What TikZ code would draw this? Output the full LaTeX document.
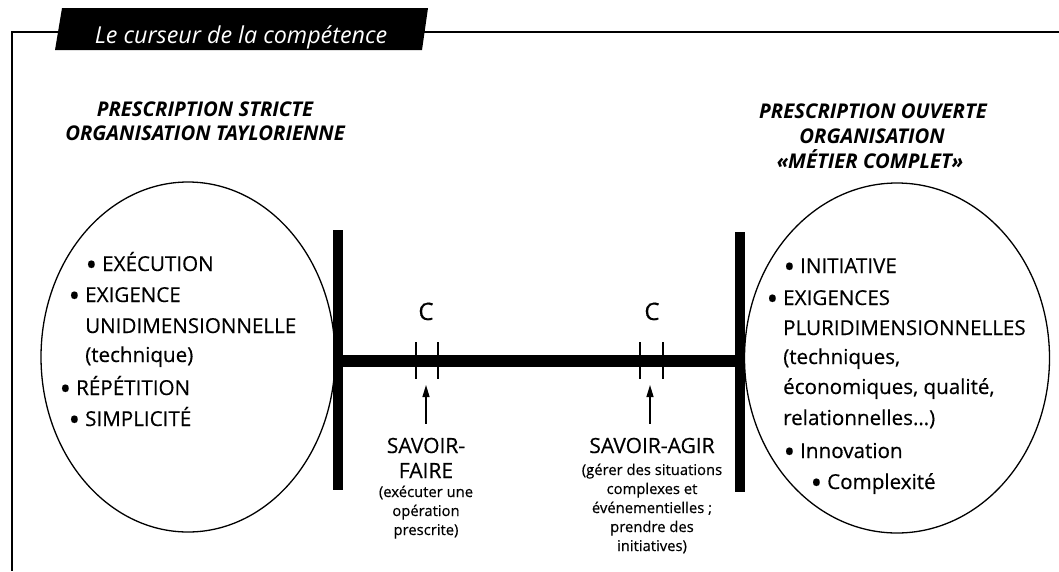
\documentclass[tikz,border=0pt]{standalone}
\usepackage{fontspec}
\setmainfont{Open Sans}[UprightFeatures={FakeBold=0.4}]
\usetikzlibrary{arrows.meta,shapes.geometric}
\newcommand{\bulx}{\makebox[0pt][r]{\raisebox{-0.22em}{\scalebox{1.5}{\textbullet}}\hspace{5pt}}}
\begin{document}
\begin{tikzpicture}[x=1pt,y=-1pt,
  frame/.style={line width=1.4pt},
  oval/.style={draw, ellipse, line width=1.3pt, inner sep=0pt, minimum width=294pt, minimum height=350pt},
  vbar/.style={line width=10pt},
  hbar/.style={line width=12pt},
  tickmark/.style={line width=1.3pt},
  item/.style={anchor=base west, inner sep=0pt, font=\fontsize{20.6}{24}\selectfont},
  head/.style={anchor=base, inner sep=0pt, font=\fontsize{20.3}{23}\selectfont\bfseries\itshape},
  big/.style={anchor=base, inner sep=0pt, font=\fontsize{21}{24}\selectfont},
  small/.style={anchor=base, inner sep=0pt, font=\fontsize{14.8}{18}\selectfont},
  ptr/.style={line width=1.3pt, -{Triangle[length=12pt,width=7pt]}}
]
\useasboundingbox (0,0) rectangle (1059,571);
% frame and title
\coordinate (fr) at (1059,32);
\coordinate (fc) at (12,32);
\coordinate (fb) at (12,571);
\draw[frame] (fr) -- (fc) -- (fb);
\fill (62,8) -- (428,8) -- (422,50) -- (55,50) -- cycle;
\node[anchor=base, inner sep=0pt, text=white, font=\fontsize{23.3}{26}\selectfont\itshape] (title) at (241,43) {Le curseur de la compétence};

% headings
\node[head] (hl1) at (205,116) {PRESCRIPTION STRICTE};
\node[head] (hl2) at (205,140) {ORGANISATION TAYLORIENNE};
\node[head] (hr1) at (873,118) {PRESCRIPTION OUVERTE};
\node[head] (hr2) at (872,143) {ORGANISATION};
\node[head] (hr3) at (870,168) {«MÉTIER COMPLET»};

% ellipses
\node[oval] (L) at (188,357) {};
\node[oval, minimum width=305pt] (R) at (897,358) {};

% left items
\node[item] (l1) at (102,271) {\bulx EXÉCUTION};
\node[item] (l2) at (85,302) {\bulx EXIGENCE};
\node[item] (l3) at (85,333) {UNIDIMENSIONNELLE};
\node[item] (l4) at (85,362) {(technique)};
\node[item] (l5) at (76,395) {\bulx RÉPÉTITION};
\node[item] (l6) at (85,426) {\bulx SIMPLICITÉ};

% right items
\node[item] (r1) at (800,273) {\bulx INITIATIVE};
\node[item] (r2) at (783,305) {\bulx EXIGENCES};
\node[item] (r3) at (783,335) {PLURIDIMENSIONNELLES};
\node[item] (r4) at (783,364) {(techniques,};
\node[item] (r5) at (783,394) {économiques, qualité,};
\node[item] (r6) at (783,425) {relationnelles\ldots)};
\node[item] (r7) at (800,458) {\bulx Innovation};
\node[item] (r8) at (827,489) {\bulx Complexité};

% cursor bars
\coordinate (lt) at (338,230);
\coordinate (lb) at (338,490);
\coordinate (rt) at (740,232);
\coordinate (rb) at (740,492);
\coordinate (lm) at (338,361);
\coordinate (rm) at (740,361);
\draw[vbar] (lt) -- (lb);
\draw[vbar] (rt) -- (rb);
\draw[hbar] (lm) -- (rm);

% ticks
\coordinate (t1a) at (416,342); \coordinate (t1b) at (416,379);
\coordinate (t2a) at (438,342); \coordinate (t2b) at (438,379);
\coordinate (t3a) at (640,342); \coordinate (t3b) at (640,379);
\coordinate (t4a) at (663,342); \coordinate (t4b) at (663,379);
\draw[tickmark] (t1a) -- (t1b);
\draw[tickmark] (t2a) -- (t2b);
\draw[tickmark] (t3a) -- (t3b);
\draw[tickmark] (t4a) -- (t4b);

\node[big, font=\fontsize{24}{26}\selectfont] (c1) at (426,320) {C};
\node[big, font=\fontsize{24}{26}\selectfont] (c2) at (652,320) {C};

% labels
\node[big] (sf1) at (426,453) {SAVOIR-};
\node[big] (sf2) at (426,478) {FAIRE};
\node[small] (sf3) at (426,497) {(exécuter une};
\node[small] (sf4) at (426,516) {opération};
\node[small] (sf5) at (426,535) {prescrite)};

\node[big] (sa1) at (652,453) {SAVOIR-AGIR};
\node[small] (sa2) at (652,475) {(gérer des situations};
\node[small] (sa3) at (652,494) {complexes et};
\node[small] (sa4) at (652,513) {événementielles ;};
\node[small] (sa5) at (652,532) {prendre des};
\node[small] (sa6) at (652,551) {initiatives)};

\coordinate (p1) at (426,385);
\coordinate (p2) at (650,385);
\draw[ptr] ([yshift=14pt]sf1.north) -- (p1);
\draw[ptr] ([yshift=14pt,xshift=-2pt]sa1.north) -- (p2);
\end{tikzpicture}
\end{document}
